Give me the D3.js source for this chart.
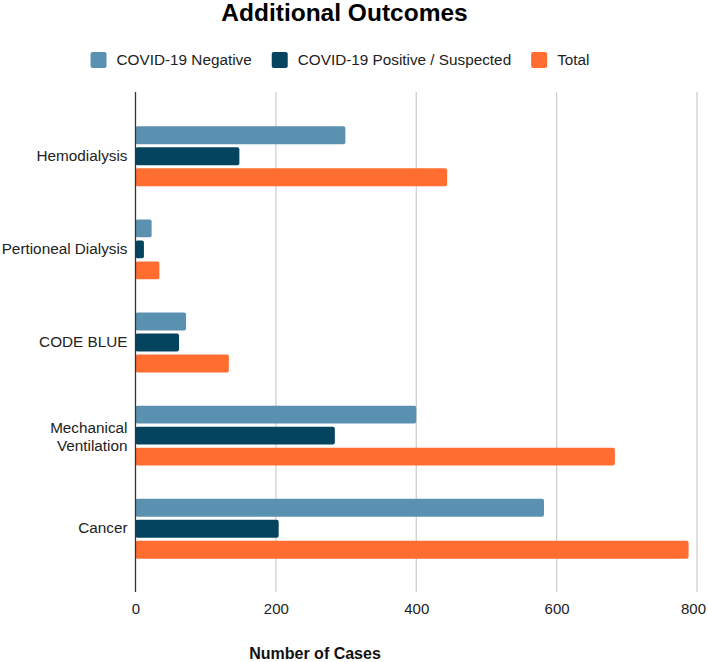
<!DOCTYPE html>
<html>
<head>
<meta charset="utf-8">
<script src="https://cdn.jsdelivr.net/npm/d3@7"></script>
<style>
  html, body { margin: 0; padding: 0; background: #fff; }
  svg { display: block; font-family: "Liberation Sans", Arial, sans-serif; }
</style>
</head>
<body>
<svg id="chart" width="708" height="662"></svg>
<script>
const categories = ["Hemodialysis", "Pertioneal Dialysis", "CODE BLUE", "Mechanical Ventilation", "Cancer"];
const seriesNames = ["COVID-19 Negative", "COVID-19 Positive / Suspected", "Total"];
const negative = [299, 23, 72, 400, 582];
const positive = [148, 12, 62, 284, 204];
const total = [444, 34, 133, 683, 788];
const xTicks = [0, 200, 400, 600, 800];
const colors = ["#5b91b0", "#04445f", "#ff6d31"];

const seriesValues = [negative, positive, total];
const svg = d3.select("#chart");

const plotLeft = 135.5, plotRight = 697, plotTop = 92, plotBottom = 592;

const x = d3.scaleLinear().domain([0, 800]).range([plotLeft, plotRight]);
const y = d3.scaleBand().domain(categories).range([plotTop, plotBottom]).paddingInner(0).paddingOuter(0.185);
const ySub = d3.scaleBand().domain(seriesNames).range([-31, 32]).paddingInner(0.15).paddingOuter(0.075);

// Title
svg.append("text")
  .attr("x", 344.5).attr("y", 21)
  .attr("text-anchor", "middle")
  .attr("font-weight", "bold")
  .attr("font-size", 24.5)
  .attr("fill", "#000")
  .text("Additional Outcomes");

// Legend
const legend = svg.append("g");
let lx = 0;
const items = [];
seriesNames.forEach((name, i) => {
  const g = legend.append("g");
  g.append("rect").attr("x", 0).attr("y", -8).attr("width", 16).attr("height", 16)
    .attr("rx", 2).attr("fill", colors[i]);
  const t = g.append("text").attr("x", 26).attr("y", 0).attr("dy", "0.35em")
    .attr("font-size", 15.3).attr("fill", "#222").text(name);
  const w = 26 + t.node().getComputedTextLength();
  items.push({g, w});
});
const gap = 20;
const totalW = d3.sum(items, d => d.w) + gap * (items.length - 1);
lx = 340 - totalW / 2;
items.forEach(it => { it.g.attr("transform", `translate(${lx},60)`); lx += it.w + gap; });

// Gridlines
svg.append("g").selectAll("line")
  .data(xTicks.filter(d => d !== 0))
  .join("line")
  .attr("x1", d => x(d)).attr("x2", d => x(d))
  .attr("y1", plotTop).attr("y2", plotBottom)
  .attr("stroke", "#cccccc").attr("stroke-width", 1.2);

// Bars
const groups = svg.append("g").selectAll("g")
  .data(categories)
  .join("g")
  .attr("transform", d => `translate(0,${y(d) + y.bandwidth() / 2})`);

groups.selectAll("rect")
  .data((c, ci) => seriesNames.map((s, si) => ({s, si, v: seriesValues[si][ci]})))
  .join("rect")
  .attr("x", x(0))
  .attr("y", d => ySub(d.s))
  .attr("width", d => x(d.v) - x(0))
  .attr("height", ySub.bandwidth())
  .attr("rx", 2)
  .attr("fill", d => colors[d.si]);

// Axis line at 0
svg.append("line")
  .attr("x1", x(0)).attr("x2", x(0))
  .attr("y1", plotTop).attr("y2", plotBottom)
  .attr("stroke", "#333").attr("stroke-width", 1.3);

// X axis labels
const xAxis = d3.axisBottom(x).tickValues(xTicks).tickSize(0).tickPadding(0);
const xg = svg.append("g").attr("transform", `translate(0,${plotBottom + 11})`).call(xAxis);
xg.select(".domain").remove();
xg.selectAll("text").attr("font-size", 15).attr("fill", "#222")
  .attr("font-family", "Liberation Sans, Arial, sans-serif")
  .attr("dx", d => d === 800 ? -4 : 0);

// Y axis labels
const yAxis = d3.axisLeft(y).tickSize(0).tickPadding(0);
const yg = svg.append("g").attr("transform", `translate(${plotLeft - 8},0)`).call(yAxis);
yg.select(".domain").remove();
yg.selectAll("text").attr("font-size", 15.3).attr("fill", "#222")
  .attr("font-family", "Liberation Sans, Arial, sans-serif")
  .each(function(d) {
    const t = d3.select(this);
    if (d === "Mechanical Ventilation") {
      t.text(null);
      t.append("tspan").attr("x", 0).attr("dy", "-0.15em").text("Mechanical");
      t.append("tspan").attr("x", 0).attr("dy", "1.2em").text("Ventilation");
    }
  });

// X axis title
svg.append("text")
  .attr("x", 315).attr("y", 659)
  .attr("text-anchor", "middle")
  .attr("font-weight", "bold")
  .attr("font-size", 16)
  .attr("fill", "#111")
  .text("Number of Cases");
</script>
</body>
</html>
